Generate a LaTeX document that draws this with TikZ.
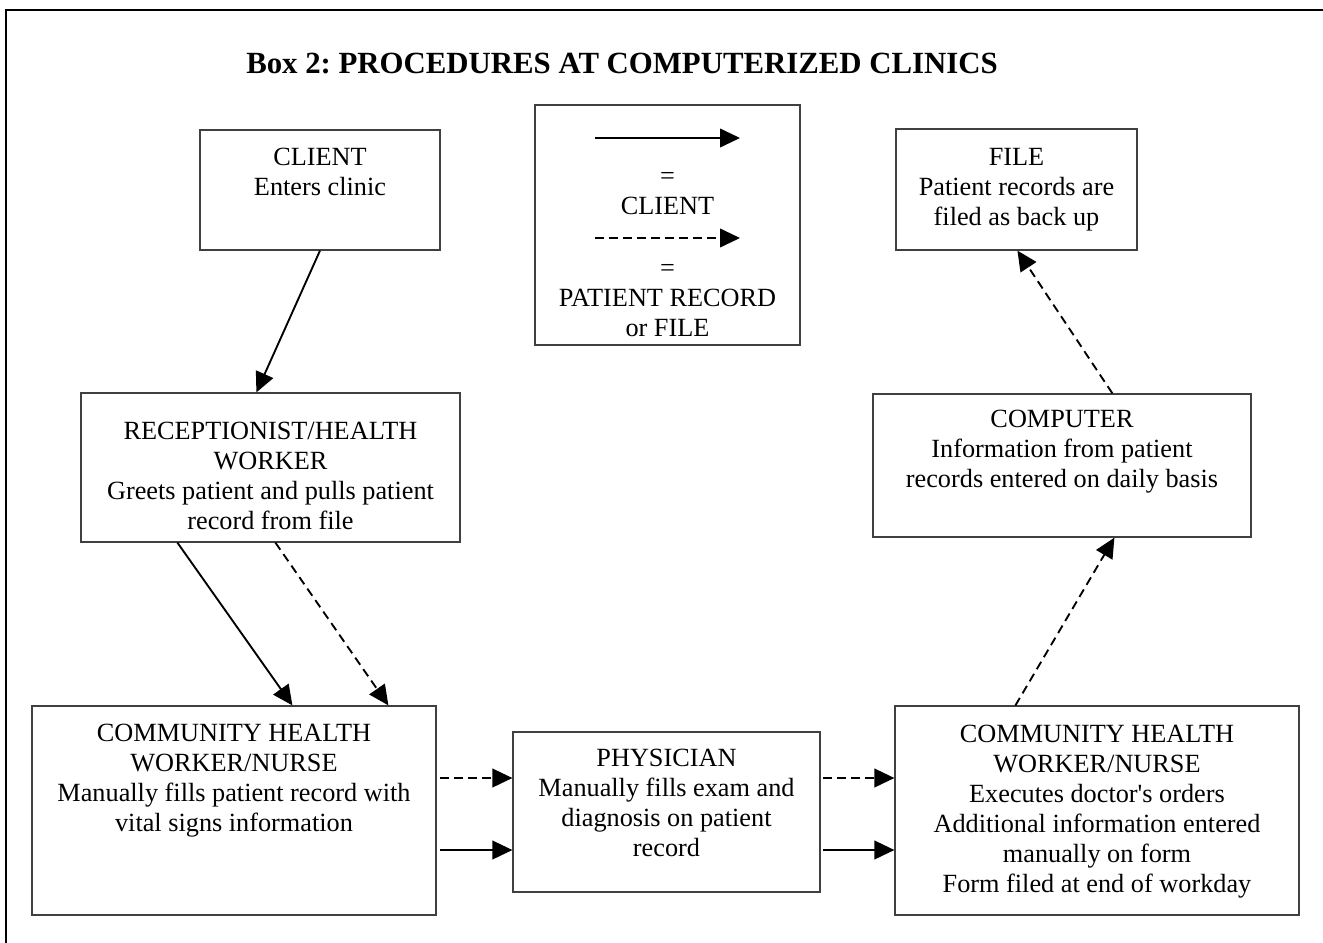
\documentclass[tikz,border=0pt]{standalone}
\usepackage{fontspec}
\setmainfont{Liberation Serif}
\usepackage{tikz}
\usetikzlibrary{arrows.meta}
\usetikzlibrary{calc}
\usetikzlibrary{positioning}
\frenchspacing

\tikzset{
  box/.style 2 args={draw={rgb, 255:red, 64; green, 64; blue, 64}, line width=0.9pt, minimum width=#1*0.75pt, minimum height=#2*0.75pt, inner sep=0pt},
  lbl/.style={align=center, inner sep=0pt, anchor=base, font=\fontsize{19.7}{22.5}\selectfont},
  ttl/.style={inner sep=0pt, anchor=base west, font=\fontsize{23.1}{27}\selectfont\bfseries},
  sflow/.style={line width=1.4pt, -{Triangle[length=15pt, width=14pt]}},
  dflow/.style={sflow, dash pattern=on 6.5pt off 4pt},
}

\begin{document}
\begin{tikzpicture}[x=0.75pt,y=0.75pt,yscale=-1,xscale=1]
\path[use as bounding box] (0,0) rectangle (1323,942);
\clip (0,0) rectangle (1323,942);

%Shape: Frame
\draw[line width=1.8pt] (6,960) -- (6,10) -- (1340,10);

% Title
\node[ttl] (title) at (246,74) {Box 2: PROCEDURES AT COMPUTERIZED CLINICS};

%Shape: Rectangle [client]
\node[box={240}{120}] (client) at (320,190) {};
%Shape: Rectangle [legend]
\node[box={265}{240}] (legend) at (667.5,225) {};
%Shape: Rectangle [file]
\node[box={241}{121}] (file) at (1016.5,189.5) {};
%Shape: Rectangle [receptionist]
\node[box={379}{149}] (recep) at (270.5,467.5) {};
%Shape: Rectangle [computer]
\node[box={378}{143}] (computer) at (1062,465.5) {};
%Shape: Rectangle [nurse left]
\node[box={404}{209}] (chwl) at (234,810.5) {};
%Shape: Rectangle [physician]
\node[box={307}{160}] (phys) at (666.5,812) {};
%Shape: Rectangle [nurse right]
\node[box={404}{209}] (chwr) at (1097,810.5) {};

% Text Node (base = last line)
\node[lbl] (clientT) at ($(client.north)+(0,66)$) {CLIENT\\Enters clinic};
% Text Node
\node[lbl] (legT1) at ($(legend.north)+(0,110)$) {=\\CLIENT};
% Text Node
\node[lbl] (legT2) at ($(legend.north)+(0,232)$) {=\\PATIENT RECORD\\or FILE};
% Text Node
\node[lbl] (fileT) at ($(file.north)+(0,97)$) {FILE\\Patient records are\\filed as back up};
% Text Node
\node[lbl] (recepT) at ($(recep.north)+(0,137)$) {RECEPTIONIST/HEALTH\\WORKER\\Greets patient and pulls patient\\record from file};
% Text Node
\node[lbl] (computerT) at ($(computer.north)+(0,94)$) {COMPUTER\\Information from patient\\records entered on daily basis};
% Text Node
\node[lbl] (chwlT) at ($(chwl.north)+(0,126)$) {COMMUNITY HEALTH\\WORKER/NURSE\\Manually fills patient record with\\vital signs information};
% Text Node
\node[lbl] (physT) at ($(phys.north)+(0,125)$) {PHYSICIAN\\Manually fills exam and\\diagnosis on patient\\record};
% Text Node
\node[lbl] (chwrT) at ($(chwr.north)+(0,187)$) {COMMUNITY HEALTH\\WORKER/NURSE\\Executes doctor\textquotesingle s orders\\Additional information entered\\manually on form\\Form filed at end of workday};

%Straight Lines [legend]
\coordinate (ls1) at (595,138);
\coordinate (ls2) at (740,138);
\coordinate (ld1) at (595,238);
\coordinate (ld2) at (740,238);
\draw[sflow] (ls1) -- (ls2);
\draw[dflow] (ld1) -- (ld2);

%Straight Lines
\draw[sflow] (client.south) -- ($(recep.north west)+(176,0)$);
\draw[sflow] ($(recep.south west)+(97,0)$) -- ($(chwl.north west)+(261,0)$);
\draw[dflow] ($(recep.south west)+(195,0)$) -- ($(chwl.north west)+(357,0)$);

%Straight Lines
\coordinate (pd) at (440,778);
\coordinate (ps) at (440,850);
\draw[dflow] (pd) -- (pd -| phys.west);
\draw[sflow] (ps) -- (ps -| phys.west);
\coordinate (cd) at (823,778);
\coordinate (cs) at (823,850);
\draw[dflow] (cd) -- (cd -| chwr.west);
\draw[sflow] (cs) -- (cs -| chwr.west);

%Straight Lines
\draw[dflow] ($(chwr.north west)+(121,0)$) -- ($(computer.south west)+(242,0)$);
\draw[dflow] ($(computer.north west)+(240,0)$) -- ($(file.south west)+(122,0)$);

\end{tikzpicture}
\end{document}
